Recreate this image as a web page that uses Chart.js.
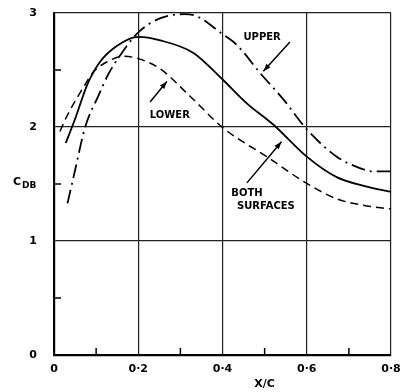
<!DOCTYPE html>
<html><head><meta charset="utf-8">
<script src="https://cdn.jsdelivr.net/npm/chart.js@4"></script>
<style>html,body{margin:0;padding:0;background:#fff}#wrap{width:401px;height:392px}</style>
</head><body><div id="wrap"><canvas id="c" width="401" height="392"></canvas></div>
<script>
const upperX = [0.032,0.050,0.074,0.105,0.130,0.161,0.200,0.250,0.310,0.340,0.398,0.434,0.490,0.545,0.600,0.671,0.726,0.760,0.800];
const upperY = [1.33,1.62,2.00,2.27,2.47,2.65,2.83,2.95,2.99,2.97,2.82,2.72,2.47,2.24,1.98,1.74,1.64,1.61,1.61];
const bothX = [0.028,0.050,0.080,0.109,0.149,0.200,0.252,0.331,0.402,0.457,0.521,0.600,0.671,0.740,0.800];
const bothY = [1.86,2.07,2.38,2.57,2.71,2.79,2.76,2.65,2.41,2.21,2.02,1.74,1.56,1.48,1.43];
const lowerX = [0.014,0.030,0.070,0.093,0.125,0.165,0.200,0.252,0.323,0.402,0.505,0.598,0.671,0.740,0.800];
const lowerY = [1.96,2.09,2.35,2.48,2.57,2.62,2.60,2.51,2.27,1.99,1.74,1.51,1.37,1.31,1.28];
const xTickLabels = ['0','0·2','0·4','0·6','0·8'];
const yTickLabels = ['0','1','2','3'];
const xMinorTicks = [0.1,0.3,0.5,0.7];
const yMinorTicks = [0.5,1.5,2.5];

const pts = (xs, ys) => xs.map((x,i)=>({x, y: ys[i]}));
const FONT = 'bold 10px "DejaVu Sans", sans-serif';

const annotations = [
  {text:'UPPER', x:0.494, y:2.79, ax1:[0.56,2.745], ax2:[0.497,2.49]},
  {text:'LOWER', x:0.275, y:2.105, ax1:[0.228,2.22], ax2:[0.268,2.40]},
  {text:'BOTH', x:0.458, y:1.42, ax1:[0.458,1.51], ax2:[0.54,1.87]},
  {text:'SURFACES', x:0.503, y:1.30}
];

const extras = {
  id:'extras',
  afterDraw(chart){
    const ctx = chart.ctx, xs = chart.scales.x, ys = chart.scales.y;
    ctx.save();
    ctx.strokeStyle = '#000'; ctx.fillStyle = '#000'; ctx.lineWidth = 1.5;
    xMinorTicks.forEach(v=>{ const px = xs.getPixelForValue(v);
      ctx.beginPath(); ctx.moveTo(px, ys.bottom); ctx.lineTo(px, ys.bottom-7); ctx.stroke(); });
    yMinorTicks.forEach(v=>{ const py = ys.getPixelForValue(v);
      ctx.beginPath(); ctx.moveTo(xs.left, py); ctx.lineTo(xs.left+7, py); ctx.stroke(); });
    ctx.font = FONT; ctx.textAlign = 'center'; ctx.textBaseline = 'middle';
    annotations.forEach(a=>{
      ctx.fillText(a.text, xs.getPixelForValue(a.x), ys.getPixelForValue(a.y));
      if (a.ax1){
        const x1 = xs.getPixelForValue(a.ax1[0]), y1 = ys.getPixelForValue(a.ax1[1]);
        const x2 = xs.getPixelForValue(a.ax2[0]), y2 = ys.getPixelForValue(a.ax2[1]);
        ctx.lineWidth = 1.5;
        ctx.beginPath(); ctx.moveTo(x1,y1); ctx.lineTo(x2,y2); ctx.stroke();
        const ang = Math.atan2(y2-y1, x2-x1), L = 8, W = 0.35;
        ctx.beginPath(); ctx.moveTo(x2,y2);
        ctx.lineTo(x2 - L*Math.cos(ang-W), y2 - L*Math.sin(ang-W));
        ctx.lineTo(x2 - L*Math.cos(ang+W), y2 - L*Math.sin(ang+W));
        ctx.closePath(); ctx.fill();
      }
    });
    ctx.font = 'bold 11px "DejaVu Sans", sans-serif';
    ctx.textAlign = 'left';
    const cy = ys.getPixelForValue(1.5);
    ctx.fillText('C', 13, cy - 2);
    ctx.font = 'bold 9px "DejaVu Sans", sans-serif';
    ctx.fillText('DB', 22, cy + 2);
    ctx.font = 'bold 11px "DejaVu Sans", sans-serif';
    ctx.textAlign = 'center';
    ctx.fillText('X/C', xs.getPixelForValue(0.5), 384);
    ctx.restore();
  }
};

new Chart(document.getElementById('c'), {
  type:'line',
  data:{ datasets:[
    {label:'Upper', data:pts(upperX,upperY), borderColor:'#000', borderWidth:1.8, borderDash:[14,5,2,5], pointRadius:0, cubicInterpolationMode:'monotone', fill:false},
    {label:'Both surfaces', data:pts(bothX,bothY), borderColor:'#000', borderWidth:1.8, pointRadius:0, cubicInterpolationMode:'monotone', fill:false},
    {label:'Lower', data:pts(lowerX,lowerY), borderColor:'#000', borderWidth:1.5, borderDash:[8,5], pointRadius:0, cubicInterpolationMode:'monotone', fill:false}
  ]},
  options:{
    responsive:false, animation:false, devicePixelRatio:1,
    layout:{padding:{top:13, right:10, left:0, bottom:0}},
    plugins:{legend:{display:false}, tooltip:{enabled:false}},
    scales:{
      x:{type:'linear', min:0, max:0.8,
        afterBuildTicks(s){ s.ticks = [0,0.2,0.4,0.6,0.8].map(v=>({value:v})); },
        afterFit(s){ s.height = 37; s.paddingLeft = 0; s.paddingRight = 0; },
        ticks:{color:'#000', font:{family:'DejaVu Sans', size:11, weight:'bold'}, padding:8, maxRotation:0,
          callback:(v,i)=>xTickLabels[i]},
        grid:{color:'#222', lineWidth:1.2, drawTicks:false},
        border:{color:'#000', width:2.2}
      },
      y:{type:'linear', min:0, max:3,
        afterBuildTicks(s){ s.ticks = [0,1,2,3].map(v=>({value:v})); },
        afterFit(s){ s.width = 54; s.paddingTop = 0; s.paddingBottom = 0; },
        ticks:{color:'#000', font:{family:'DejaVu Sans', size:11, weight:'bold'}, padding:17,
          callback:(v,i)=>yTickLabels[i]},
        grid:{color:'#222', lineWidth:1.2, drawTicks:false},
        border:{color:'#000', width:2.2}
      }
    }
  },
  plugins:[extras]
});
</script></body></html>
